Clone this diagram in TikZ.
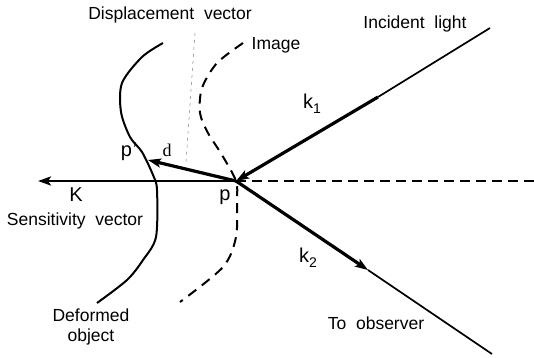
\documentclass[tikz,border=0pt]{standalone}
\usepackage{fontspec}
\setmainfont{Liberation Sans}
\newfontfamily\serifd{Liberation Serif}
\usetikzlibrary{arrows.meta}
\tikzset{
  lbl/.style={inner sep=0pt, font=\fontsize{17.5}{20}\selectfont},
  sym/.style={inner sep=0pt, font=\fontsize{20}{22}\selectfont},
  thinray/.style={line width=1.7pt},
  thickray/.style={line width=3.2pt},
  arr/.style={-{Stealth[length=13pt,width=9pt,inset=3pt]}},
  imgdash/.style={line width=2pt, dash pattern=on 10pt off 7pt},
  objline/.style={line width=2pt},
  displine/.style={line width=0.5pt, gray, dash pattern=on 3pt off 4pt}
}
\newcommand{\subs}[1]{{\fontsize{14}{15}\selectfont\raisebox{-5pt}{#1}}}
\begin{document}
\begin{tikzpicture}[x=1pt,y=-1pt]
\useasboundingbox (0,0) rectangle (534,357);
% key points
\coordinate (P) at (236,181);
\coordinate (Kend) at (38,181);
\coordinate (Rend) at (534,181);
\coordinate (Lin) at (490,28);
\coordinate (Lmid) at (378,97);
\coordinate (Oend) at (492,354);
\coordinate (Omid) at (368,270);
\coordinate (Pp) at (148,160);
\coordinate (Dtop) at (195,33);
\coordinate (Dbot) at (186,162);
% deformed object
\draw[objline] plot[smooth, tension=0.5] coordinates {(163,43) (142,57) (122,83) (121,112) (130,137) (142,152) (153,175) (157,190) (156,237) (143,260) (127,280) (97,303)};
% image
\draw[imgdash] plot[smooth, tension=0.5] coordinates {(243,43) (217,63) (202,88) (200,113) (208,133) (222,155) (236,181) (237,200) (236,237) (223,267) (180,302)};
% displacement vector guide
\draw[displine] (Dtop) -- (Dbot);
% horizontal lines
\draw[line width=2.4pt, arr] (P) -- (Kend);
\draw[line width=2pt, dash pattern=on 10pt off 6pt] (P) -- (Rend);
% incident light
\draw[thinray] (Lin) -- (Lmid);
\draw[thickray, arr] (Lmid) -- (P);
% to observer
\draw[thinray] (Omid) -- (Oend);
\draw[thickray, arr] (P) -- (Omid);
% displacement d
\draw[thickray, arr] (P) -- (Pp);
% labels
\node[lbl] (tdisp) at (170,15) {Displacement\ \ vector};
\node[lbl] (timg) at (276,45) {Image};
\node[lbl] (tinc) at (415,24) {Incident\ \ light};
\node[sym] (tk1) at (312,104) {k\subs{1}};
\node[sym] (tpp) at (129,152) {p\kern0.5pt'};
\node[sym, font=\serifd\fontsize{18}{20}\selectfont] (td) at (167,150) {d};
\node[sym] (tK) at (76,195) {K};
\node[sym] (tp) at (225,197) {p};
\node[lbl] (tsens) at (75,221) {Sensitivity\ \ vector};
\node[lbl, align=center] (tdef) at (91,327) {Deformed\\object};
\node[sym] (tk2) at (308,258) {k\subs{2}};
\node[lbl] (tobs) at (376,323) {To\ \ observer};
\end{tikzpicture}
\end{document}
